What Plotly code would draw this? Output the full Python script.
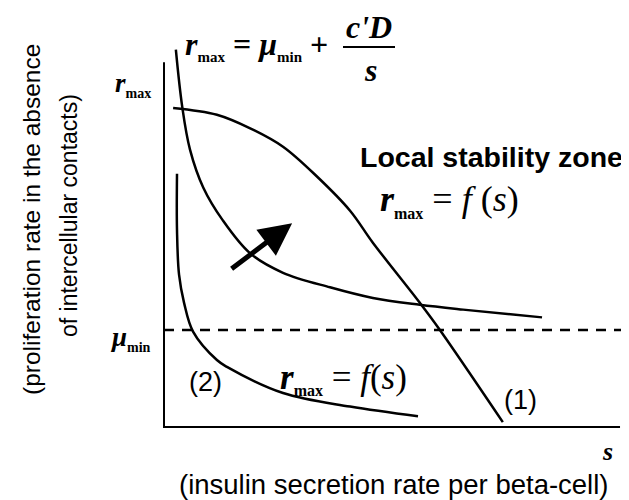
import plotly.graph_objects as go

# ---- data (arbitrary units: s = insulin secretion rate, r = proliferation rate) ----
mu_min = 1.0
rmax_level = 3.53
axis_s_max = 10.0
axis_r_max = 3.76

# upper hyperbola r = mu_min + c'D/s
hyp_s = [0.26, 0.40, 0.57, 0.86, 1.29, 1.89, 2.61, 3.64, 4.58, 5.61, 6.56, 8.29]
hyp_r = [3.89, 3.30, 2.86, 2.47, 2.13, 1.79, 1.59, 1.44, 1.33, 1.26, 1.21, 1.13]

# curve (1): r_max = f(s), concave
f1_s = [0.20, 1.16, 1.89, 2.61, 3.36, 4.08, 4.58, 5.61, 6.05, 7.43]
f1_r = [3.29, 3.22, 3.08, 2.89, 2.58, 2.23, 1.90, 1.28, 1.00, 0.05]

# curve (2): r_max = f(s), convex
f2_s = [0.285, 0.285, 0.33, 0.44, 0.64, 1.16, 1.38, 2.61, 4.08, 5.57]
f2_r = [2.61, 2.03, 1.57, 1.28, 0.98, 0.69, 0.62, 0.35, 0.21, 0.11]

# arrow (tail -> head)
arrow_s = [1.45, 2.81]
arrow_r = [1.62, 2.10]

tick_vals = [rmax_level, mu_min]
tick_text = ["<b><i>r</i></b><sub><span style='font-size:14px'><b>max</b></span></sub>",
             "<b><i>μ</i></b><sub><span style='font-size:14px'><b>min</b></span></sub>"]

x_title = "(insulin secretion rate per beta-cell)"
y_title_lines = ["(proliferation rate in the absence", "of intercellular contacts)"]

# page body has an 8px margin: figure occupies window pixels 8..629 / 8..500
OFF = 8
W, H = 629 - OFF, 500 - OFF
x_range = [-3.421, 10.197]
y_range = [-0.753, 4.320]

fig = go.Figure()
line = dict(color="black", width=2.5)

# axes
fig.add_trace(go.Scatter(x=[0, 0, axis_s_max], y=[axis_r_max, 0, 0], mode="lines",
                         line=dict(color="black", width=2)))
# dashed mu_min line
fig.add_trace(go.Scatter(x=[0, x_range[1]], y=[mu_min, mu_min], mode="lines",
                         line=dict(color="black", width=2.5, dash="10px,8px")))
fig.add_trace(go.Scatter(x=hyp_s, y=hyp_r, mode="lines", line=dict(line, shape="spline")))
fig.add_trace(go.Scatter(x=f1_s, y=f1_r, mode="lines", line=dict(line, shape="spline")))
fig.add_trace(go.Scatter(x=f2_s, y=f2_r, mode="lines", line=dict(line, shape="spline")))


def px(x):
    return (x - OFF) / W


def py(y):
    return 1 - (y - OFF) / H


serif = "Liberation Serif"
sans = "Liberation Sans"
ann = []


def add(text, x, y, size, fam, xanchor="center", angle=0):
    ann.append(dict(text=text, x=px(x), y=py(y), xref="paper", yref="paper",
                    showarrow=False, xanchor=xanchor, yanchor="middle",
                    textangle=angle, font=dict(size=size, family=fam, color="black")))


def sub(t, s=15):
    return f"<sub><span style='font-size:{s}px'><b>{t}</b></span></sub>"


# tick labels
for v, t in zip(tick_vals, tick_text):
    yy = 427 - v * 97
    add(t, 153, yy + (0 if v > 2 else 8), 27, serif, xanchor="right")

# top formula
add("<b><i>r</i></b>" + sub("max") + " <b>=</b> <b><i>μ</i></b>" + sub("min") + " <b>+</b>",
    183, 45, 32, serif, xanchor="left")
add("<b><i>c'D</i></b>", 369, 27, 32, serif)
add("<b><i>s</i></b>", 370, 70, 32, serif)

# right labels
add("<b>Local stability zone</b>", 491, 157, 28.5, sans)
add("<b><i>r</i></b>" + sub("max", 16) + " = <i>f</i> (<i>s</i>)", 378, 200, 36, serif, xanchor="left")
add("<b><i>r</i></b>" + sub("max", 16) + " = <i>f</i>(<i>s</i>)", 278, 378, 35, serif, xanchor="left")
add("(2)", 205, 382, 27, sans)
add("(1)", 520, 400, 27, sans)
add("<b><i>s</i></b>", 607, 451, 26, serif)

# axis titles
add(x_title, 394, 484, 27.5, sans)
add(y_title_lines[0], 31, 220, 24.5, sans, angle=-90)
add(y_title_lines[1], 69, 216, 23, sans, angle=-90)

# arrow
ann.append(dict(x=arrow_s[1], y=arrow_r[1], ax=arrow_s[0], ay=arrow_r[0],
                xref="x", yref="y", axref="x", ayref="y", text="", showarrow=True,
                arrowhead=2, arrowsize=1.3, arrowwidth=5, arrowcolor="black"))

fig.update_layout(
    width=W, height=H, margin=dict(l=0, r=0, t=0, b=0),
    plot_bgcolor="white", paper_bgcolor="white", showlegend=False,
    xaxis=dict(range=x_range, visible=False, fixedrange=True),
    yaxis=dict(range=y_range, visible=False, fixedrange=True),
    annotations=ann,
    shapes=[dict(type="line", xref="paper", yref="paper", x0=px(343), x1=px(395),
                 y0=py(47), y1=py(47), line=dict(color="black", width=2))],
)

fig.write_html("out.html")
